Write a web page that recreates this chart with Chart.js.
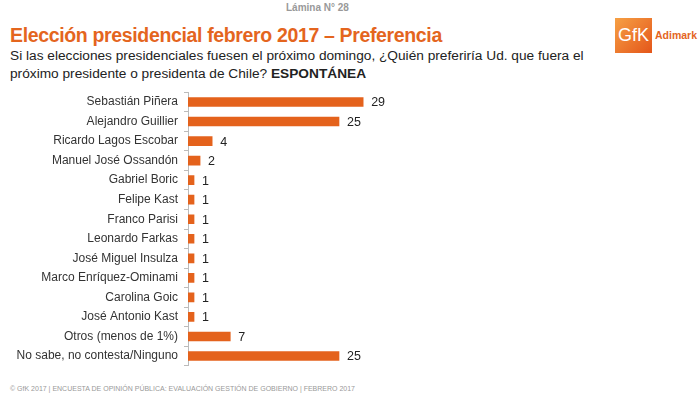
<!DOCTYPE html>
<html>
<head>
<meta charset="utf-8">
<script src="https://cdn.jsdelivr.net/npm/chart.js@4"></script>
<style>
  body { margin: 0; background: #fff; font-family: "Liberation Sans", Arial, sans-serif; }
  #page { position: relative; width: 700px; height: 397px; overflow: hidden; }
  .abs { position: absolute; white-space: nowrap; }
  #lamina { left: 286px; top: 2px; font-size: 10px; font-weight: bold; color: #999; }
  #title { left: 10px; top: 24px; font-size: 19.5px; font-weight: bold; color: #E4651E; letter-spacing: -0.35px; }
  #sub { left: 10px; top: 47px; font-size: 13.7px; line-height: 17.5px; color: #222; }
  #logo { left: 615px; top: 18px; width: 37px; height: 35px; background: linear-gradient(135deg, #F6A044, #E4561A); color: #fff; font-size: 18px; text-align: center; line-height: 35px; }
  #adimark { left: 655px; top: 29px; font-size: 10.5px; font-weight: bold; color: #E4651E; }
  #footer { left: 10px; top: 385px; font-size: 7px; color: #999; }
  #wrap { position: absolute; left: 0; top: 79px; width: 700px; height: 300px; }
</style>
</head>
<body>
<div id="page">
  <div id="lamina" class="abs">Lámina N° 28</div>
  <div id="title" class="abs">Elección presidencial febrero 2017 – Preferencia</div>
  <div id="sub" class="abs">Si las elecciones presidenciales fuesen el próximo domingo, ¿Quién preferiría Ud. que fuera el<br>próximo presidente o presidenta de Chile? <b>ESPONTÁNEA</b></div>
  <div id="logo" class="abs">GfK</div>
  <div id="adimark" class="abs">Adimark</div>
  <div id="footer" class="abs">© GfK 2017 | ENCUESTA DE OPINIÓN PÚBLICA: EVALUACIÓN GESTIÓN DE GOBIERNO | FEBRERO 2017</div>
  <div id="wrap"><canvas id="chart"></canvas></div>
</div>
<script>
const categories = [
  'Sebastián Piñera',
  'Alejandro Guillier',
  'Ricardo Lagos Escobar',
  'Manuel José Ossandón',
  'Gabriel Boric',
  'Felipe Kast',
  'Franco Parisi',
  'Leonardo Farkas',
  'José Miguel Insulza',
  'Marco Enríquez-Ominami',
  'Carolina Goic',
  'José Antonio Kast',
  'Otros (menos de 1%)',
  'No sabe, no contesta/Ninguno'
];
const values = [29, 25, 4, 2, 1, 1, 1, 1, 1, 1, 1, 1, 7, 25];

// draws the value next to the end of each bar
const valueLabels = {
  id: 'valueLabels',
  afterDatasetsDraw(chart) {
    const ctx = chart.ctx;
    const meta = chart.getDatasetMeta(0);
    ctx.save();
    ctx.font = '12.5px "Liberation Sans", Arial, sans-serif';
    ctx.fillStyle = '#222';
    ctx.textBaseline = 'middle';
    ctx.textAlign = 'left';
    meta.data.forEach((bar, i) => {
      ctx.fillText(values[i], bar.x + 8, bar.y + 1);
    });
    ctx.restore();
  }
};

new Chart(document.getElementById('chart'), {
  type: 'bar',
  data: {
    labels: categories,
    datasets: [{
      data: values,
      backgroundColor: '#E4621C',
      barThickness: 9
    }]
  },
  options: {
    indexAxis: 'y',
    responsive: true,
    maintainAspectRatio: false,
    animation: false,
    layout: { padding: { top: 3, right: 210, bottom: 5, left: 0 } },
    plugins: { legend: { display: false }, tooltip: { enabled: false } },
    scales: {
      x: {
        display: false,
        min: 0,
        max: 50
      },
      y: {
        afterFit(scale) { scale.width = 188; },
        grid: { drawOnChartArea: false, tickLength: 4, color: '#bbb' },
        border: { color: '#bbb' },
        ticks: {
          color: '#333',
          padding: 6,
          font: { family: '"Liberation Sans", Arial, sans-serif', size: 12 }
        }
      }
    }
  },
  plugins: [valueLabels]
});
</script>
</body>
</html>
